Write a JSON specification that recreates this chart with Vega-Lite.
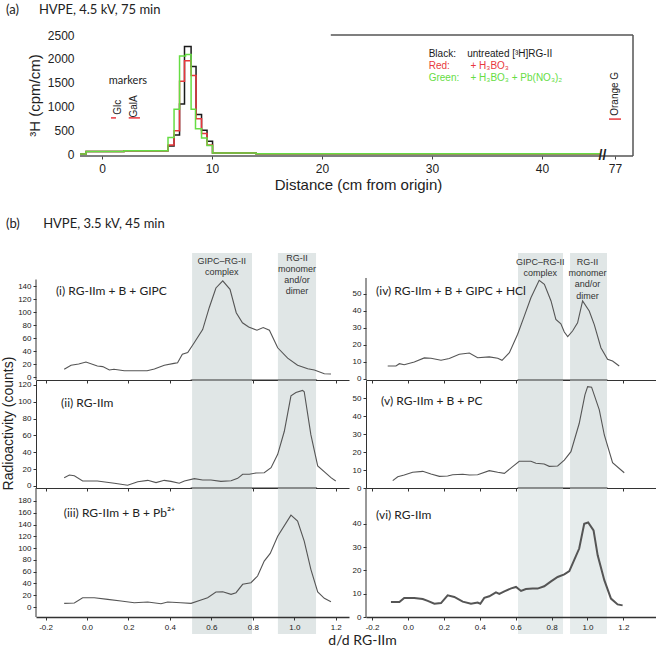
{
  "$schema": "https://vega.github.io/schema/vega-lite/v6.json",
  "padding": {"top": 3, "left": 0, "right": 0, "bottom": 0},
  "background": "white",
  "config": {
    "view": {"stroke": null},
    "axis": {"labelFont": "Liberation Sans", "titleFont": "Liberation Sans", "labelColor": "#222", "titleColor": "#222", "titleFontWeight": "normal", "grid": false},
    "title": {"font": "Lato", "fontSize": 13, "fontWeight": "normal", "color": "#222", "anchor": "start", "frame": "group"}
  },
  "bounds": "flush",
  "spacing": 0,
  "vconcat": [
    {
      "width": 597,
      "height": 121,
      "title": {"text": "(a)\u00a0\u00a0\u00a0\u00a0\u00a0\u00a0HVPE, 4.5 kV, 75 min", "dx": -30, "offset": 2.5, "baseline": "alphabetic"},
      "encoding": {
        "x": {"field": "x", "type": "quantitative",
          "scale": {"domain": [-6, 45.5, 76, 79], "range": [0, 566.5, 570, 597], "nice": false, "zero": false},
          "axis": {"title": "Distance (cm from origin)", "values": [0, 10, 20, 30, 40, 77], "domain": false, "tickSize": 3, "tickColor": "#444", "labelFontSize": 12, "labelPadding": 4, "titleFontSize": 15, "titlePadding": 3, "titleX": 322, "zindex": 1}},
        "y": {"field": "y", "type": "quantitative", "scale": {"domain": [-40, 2500], "nice": false, "zero": false},
          "axis": {"title": "\u00b3H (cpm/cm)", "values": [0, 500, 1000, 1500, 2000, 2500], "format": "d", "offset": -44, "domain": false, "ticks": false, "labelPadding": 6, "labelFontSize": 12, "titleFontSize": 15, "titleX": -46, "titleY": 60, "titleAlign": "center", "titleBaseline": "middle", "titleAngle": 270, "zindex": 1}}
      },
      "layer": [
        {
          "data": {"values": [{"x": -2, "xe": 79, "y": -40, "ye": -40}, {"x": 79, "xe": 79, "y": -40, "ye": 2500}, {"x": 20.8, "xe": 79, "y": 2500, "ye": 2500}]},
          "mark": {"type": "rule", "color": "#555", "strokeWidth": 1.5},
          "encoding": {"x2": {"field": "xe"}, "y2": {"field": "ye"}}
        },
        {
          "data": {"values": [
            {"s": "Black", "x": -2, "y": 0}, {"s": "Black", "x": -1.45, "y": 55}, {"s": "Black", "x": 2, "y": 72}, {"s": "Black", "x": 6, "y": 170}, {"s": "Black", "x": 6.55, "y": 400}, {"s": "Black", "x": 7.05, "y": 1050}, {"s": "Black", "x": 7.5, "y": 2260}, {"s": "Black", "x": 8.1, "y": 1840}, {"s": "Black", "x": 8.55, "y": 830}, {"s": "Black", "x": 9.05, "y": 500}, {"s": "Black", "x": 9.55, "y": 270}, {"s": "Black", "x": 10.05, "y": 25}, {"s": "Black", "x": 14, "y": 6}, {"s": "Black", "x": 45.3, "y": 6},
            {"s": "Red", "x": -2, "y": 0}, {"s": "Red", "x": -1.45, "y": 55}, {"s": "Red", "x": 2, "y": 72}, {"s": "Red", "x": 6, "y": 190}, {"s": "Red", "x": 6.55, "y": 490}, {"s": "Red", "x": 7.05, "y": 1530}, {"s": "Red", "x": 7.5, "y": 1960}, {"s": "Red", "x": 8.1, "y": 1650}, {"s": "Red", "x": 8.55, "y": 740}, {"s": "Red", "x": 9.05, "y": 430}, {"s": "Red", "x": 9.55, "y": 190}, {"s": "Red", "x": 10.05, "y": 25}, {"s": "Red", "x": 14, "y": 6}, {"s": "Red", "x": 45.3, "y": 6},
            {"s": "Green", "x": -2, "y": 0}, {"s": "Green", "x": -1.45, "y": 55}, {"s": "Green", "x": 2, "y": 72}, {"s": "Green", "x": 6, "y": 350}, {"s": "Green", "x": 6.55, "y": 940}, {"s": "Green", "x": 7.05, "y": 2060}, {"s": "Green", "x": 7.6, "y": 2090}, {"s": "Green", "x": 8.1, "y": 940}, {"s": "Green", "x": 8.5, "y": 530}, {"s": "Green", "x": 9.05, "y": 340}, {"s": "Green", "x": 9.55, "y": 180}, {"s": "Green", "x": 10.05, "y": 25}, {"s": "Green", "x": 14, "y": 6}, {"s": "Green", "x": 45.3, "y": 6}
          ]},
          "mark": {"type": "line", "interpolate": "step-after", "strokeWidth": 1.5},
          "encoding": {
            "color": {"field": "s", "type": "nominal", "scale": {"domain": ["Black", "Red", "Green"], "range": ["#1a1a1a", "#e8383d", "#66dd44"]}, "legend": null}
          }
        },
        {
          "data": {"values": [{"x": 0.82, "xe": 1.27, "y": 760}, {"x": 2.43, "xe": 3.45, "y": 760}, {"x": 76.33, "xe": 77.67, "y": 735}]},
          "mark": {"type": "rule", "color": "#e8383d", "strokeWidth": 1.5},
          "encoding": {"x2": {"field": "xe"}}
        },
        {
          "data": {"values": [{"x": 1.45, "y": 985, "t": "Glc"}, {"x": 2.9, "y": 1000, "t": "GalA"}, {"x": 77, "y": 1265, "t": "Orange G"}]},
          "mark": {"type": "text", "angle": 270, "font": "Liberation Sans", "fontSize": 10, "align": "center", "baseline": "middle", "color": "#222"},
          "encoding": {"text": {"field": "t"}}
        },
        {
          "data": {"values": [{"x": 2.36, "y": 1540, "t": "markers"}]},
          "mark": {"type": "text", "font": "Lato", "fontSize": 11, "align": "center", "baseline": "middle", "color": "#222"},
          "encoding": {"text": {"field": "t"}}
        },
        {
          "data": {"values": [
            {"x": 29.7, "y": 2100, "s": "Black", "t": "Black:"}, {"x": 33.2, "y": 2100, "s": "Black", "t": "untreated [\u00b3H]RG-II"},
            {"x": 29.7, "y": 1852, "s": "Red", "t": "Red:"}, {"x": 33.5, "y": 1852, "s": "Red", "t": "+ H\u2083BO\u2083"},
            {"x": 29.7, "y": 1606, "s": "Green", "t": "Green:"}, {"x": 33.5, "y": 1606, "s": "Green", "t": "+ H\u2083BO\u2083 + Pb(NO\u2083)\u2082"}
          ]},
          "mark": {"type": "text", "font": "Liberation Sans", "fontSize": 10, "align": "left", "baseline": "middle"},
          "encoding": {"text": {"field": "t"},
            "color": {"field": "s", "type": "nominal", "scale": {"domain": ["Black", "Red", "Green"], "range": ["#1a1a1a", "#e8383d", "#66dd44"]}, "legend": null}}
        },
        {
          "data": {"values": [{"x": 45.5, "y": -40, "t": "//"}]},
          "mark": {"type": "text", "font": "Liberation Sans", "fontSize": 14, "fontWeight": "bold", "align": "center", "baseline": "middle", "color": "#222"},
          "encoding": {"text": {"field": "t"}}
        }
      ]
    },
    {"width": 1, "height": 97, "data": {"values": []}, "mark": "point"},
    {
      "width": 620, "height": 127,
      "title": {"text": "(b)\u00a0\u00a0\u00a0\u00a0\u00a0\u00a0\u00a0HVPE, 3.5 kV, 45 min", "dx": -30, "offset": 12.5, "baseline": "alphabetic"},
      "resolve": {"scale": {"x": "independent", "y": "independent"}, "axis": {"x": "independent", "y": "independent"}},
      "layer": [
        {
          "encoding": {
            "x": {"field": "x", "type": "quantitative", "scale": {"domain": [-0.246, 1.264], "range": [0, 313], "nice": false, "zero": false},
              "axis": {"title": null, "orient": "bottom", "values": [-0.2, 0, 0.2, 0.4, 0.6, 0.8, 1, 1.2], "labels": false, "tickSize": 3, "tickColor": "#333", "domainColor": "#333", "domainWidth": 1.2, "zindex": 1}},
            "y": {"field": "y", "type": "quantitative", "scale": {"domain": [-4.6, 190.8], "nice": false, "zero": false},
              "axis": {"title": null, "orient": "left", "values": [0, 20, 40, 60, 80, 100, 120, 140], "domain": false, "tickSize": 3, "tickColor": "#333", "labelFontSize": 8, "labelPadding": 2, "zindex": 1}}
          },
          "layer": [
            {"data": {"values": [{"x": 0.507, "xe": 0.796, "y": -4.6, "ye": 190.8}, {"x": 0.921, "xe": 1.105, "y": -4.6, "ye": 190.8}]}, "mark": {"type": "rect", "color": "#e0e6e6", "opacity": 1}, "encoding": {"x2": {"field": "xe"}, "y2": {"field": "ye"}}},
            {"data": {"values": [{"x": -0.246, "y": -4.6, "ye": 150}]}, "mark": {"type": "rule", "color": "#333", "strokeWidth": 1}, "encoding": {"y2": {"field": "ye"}}},
            {"data": {"values": [
              {"x": -0.11, "y": 11.8}, {"x": -0.077, "y": 18}, {"x": -0.04, "y": 20}, {"x": -0.005, "y": 23}, {"x": 0.05, "y": 17}, {"x": 0.076, "y": 16}, {"x": 0.108, "y": 10.8}, {"x": 0.13, "y": 12}, {"x": 0.18, "y": 9.7}, {"x": 0.29, "y": 9.7}, {"x": 0.325, "y": 12.3}, {"x": 0.373, "y": 18}, {"x": 0.42, "y": 21}, {"x": 0.437, "y": 22}, {"x": 0.46, "y": 35}, {"x": 0.486, "y": 37.5}, {"x": 0.518, "y": 53}, {"x": 0.558, "y": 73}, {"x": 0.59, "y": 107}, {"x": 0.622, "y": 137}, {"x": 0.655, "y": 148}, {"x": 0.69, "y": 135}, {"x": 0.72, "y": 99}, {"x": 0.75, "y": 83.5}, {"x": 0.78, "y": 77}, {"x": 0.82, "y": 72}, {"x": 0.85, "y": 76}, {"x": 0.88, "y": 72}, {"x": 0.92, "y": 45}, {"x": 0.968, "y": 29}, {"x": 1.016, "y": 18}, {"x": 1.065, "y": 12.8}, {"x": 1.097, "y": 10.8}, {"x": 1.145, "y": 5}, {"x": 1.177, "y": 4.6}
            ]}, "mark": {"type": "line", "color": "#555", "strokeWidth": 1.1}},
            {"data": {"values": [{"x": 0.65, "y": 178.5, "t": "GIPC\u2013RG-II"}, {"x": 0.65, "y": 162, "t": "complex"}, {"x": 1.013, "y": 182.6, "t": "RG-II"}, {"x": 1.013, "y": 165.7, "t": "monomer"}, {"x": 1.013, "y": 149.2, "t": "and/or"}, {"x": 1.013, "y": 132.3, "t": "dimer"}]},
              "mark": {"type": "text", "font": "Liberation Sans", "fontSize": 9, "align": "center", "baseline": "middle", "color": "#333"},
              "encoding": {"text": {"field": "t"}}},
            {"data": {"values": [{"x": -0.15, "y": 132, "t": "(i) RG-IIm + B + GIPC"}]},
              "mark": {"type": "text", "font": "Lato", "fontSize": 12, "align": "left", "baseline": "middle", "color": "#222"},
              "encoding": {"text": {"field": "t"}}}
          ]
        },
        {
          "encoding": {
            "x": {"field": "x", "type": "quantitative", "scale": {"domain": [-0.234, 1.382], "range": [330, 620], "nice": false, "zero": false},
              "axis": {"title": null, "orient": "bottom", "values": [-0.2, 0, 0.2, 0.4, 0.6, 0.8, 1, 1.2], "labels": false, "tickSize": 3, "tickColor": "#333", "domainColor": "#333", "domainWidth": 1.2, "zindex": 1}},
            "y": {"field": "y", "type": "quantitative", "scale": {"domain": [-0.6, 74.1], "nice": false, "zero": false},
              "axis": {"title": null, "orient": "left", "offset": -330, "values": [0, 10, 20, 30, 40, 50], "domain": false, "tickSize": 3, "tickColor": "#333", "labelFontSize": 8, "labelPadding": 2, "zindex": 1}}
          },
          "layer": [
            {"data": {"values": [{"x": 0.613, "xe": 0.864, "y": -0.6, "ye": 74.1}, {"x": 0.903, "xe": 1.109, "y": -0.6, "ye": 74.1}]}, "mark": {"type": "rect", "color": "#e0e6e6", "opacity": 1}, "encoding": {"x2": {"field": "xe"}, "y2": {"field": "ye"}}},
            {"data": {"values": [{"x": -0.234, "y": -0.6, "ye": 59.4}]}, "mark": {"type": "rule", "color": "#333", "strokeWidth": 1}, "encoding": {"y2": {"field": "ye"}}},
            {"data": {"values": [
              {"x": -0.113, "y": 7.6}, {"x": -0.067, "y": 7.6}, {"x": -0.048, "y": 9}, {"x": -0.021, "y": 8.4}, {"x": 0.035, "y": 10}, {"x": 0.091, "y": 12.4}, {"x": 0.128, "y": 12.2}, {"x": 0.184, "y": 11}, {"x": 0.23, "y": 12}, {"x": 0.286, "y": 14.5}, {"x": 0.342, "y": 15.3}, {"x": 0.388, "y": 12.5}, {"x": 0.453, "y": 13}, {"x": 0.5, "y": 12.2}, {"x": 0.524, "y": 11}, {"x": 0.565, "y": 15.5}, {"x": 0.611, "y": 26.3}, {"x": 0.648, "y": 37}, {"x": 0.685, "y": 47.8}, {"x": 0.731, "y": 58}, {"x": 0.76, "y": 55.7}, {"x": 0.797, "y": 45.9}, {"x": 0.824, "y": 35}, {"x": 0.852, "y": 32.5}, {"x": 0.871, "y": 27.6}, {"x": 0.89, "y": 24.9}, {"x": 0.917, "y": 28.2}, {"x": 0.945, "y": 33}, {"x": 0.973, "y": 45.9}, {"x": 1.01, "y": 40}, {"x": 1.038, "y": 32}, {"x": 1.075, "y": 18.4}, {"x": 1.112, "y": 11.6}, {"x": 1.14, "y": 10.6}, {"x": 1.177, "y": 7.6}
            ]}, "mark": {"type": "line", "color": "#555", "strokeWidth": 1.1}},
            {"data": {"values": [{"x": 0.737, "y": 69, "t": "GIPC\u2013RG-II"}, {"x": 0.737, "y": 62.5, "t": "complex"}, {"x": 1.0, "y": 69, "t": "RG-II"}, {"x": 1.0, "y": 62.5, "t": "monomer"}, {"x": 1.0, "y": 55.7, "t": "and/or"}, {"x": 1.0, "y": 49, "t": "dimer"}]},
              "mark": {"type": "text", "font": "Liberation Sans", "fontSize": 9, "align": "center", "baseline": "middle", "color": "#333"},
              "encoding": {"text": {"field": "t"}}},
            {"data": {"values": [{"x": -0.178, "y": 51.8, "t": "(iv) RG-IIm + B + GIPC + HCl"}]},
              "mark": {"type": "text", "font": "Lato", "fontSize": 12, "align": "left", "baseline": "middle", "color": "#222"},
              "encoding": {"text": {"field": "t"}}}
          ]
        }
      ]
    },
    {
      "width": 620, "height": 108,
      "resolve": {"scale": {"x": "independent", "y": "independent"}, "axis": {"x": "independent", "y": "independent"}},
      "layer": [
        {
          "encoding": {
            "x": {"field": "x", "type": "quantitative", "scale": {"domain": [-0.246, 1.264], "range": [0, 313], "nice": false, "zero": false},
              "axis": {"title": null, "orient": "bottom", "values": [-0.2, 0, 0.2, 0.4, 0.6, 0.8, 1, 1.2], "labels": false, "tickSize": 3, "tickColor": "#333", "domainColor": "#333", "domainWidth": 1.2, "zindex": 1}},
            "y": {"field": "y", "type": "quantitative", "scale": {"domain": [-2.4, 125.9], "nice": false, "zero": false},
              "axis": {"title": "Radioactivity (counts)", "orient": "left", "values": [0, 20, 40, 60, 80, 100, 120], "domain": true, "domainColor": "#333", "tickSize": 3, "tickColor": "#333", "labelFontSize": 8, "labelPadding": 2, "zindex": 1,
                "titleFontSize": 14, "titleX": -28, "titleY": 43, "titleAngle": 270, "titleAlign": "center", "titleBaseline": "middle"}}
          },
          "layer": [
            {"data": {"values": [{"x": 0.507, "xe": 0.796, "y": -2.4, "ye": 125.9}, {"x": 0.921, "xe": 1.105, "y": -2.4, "ye": 125.9}]}, "mark": {"type": "rect", "color": "#e0e6e6", "opacity": 1}, "encoding": {"x2": {"field": "xe"}, "y2": {"field": "ye"}}},
            {"data": {"values": [{"x": 0.5, "xe": 1.11, "y": 125.9}]}, "mark": {"type": "rule", "color": "#333", "strokeWidth": 1}, "encoding": {"x2": {"field": "xe"}}},
            {"data": {"values": [
              {"x": -0.11, "y": 9.9}, {"x": -0.085, "y": 13}, {"x": -0.061, "y": 12.2}, {"x": -0.021, "y": 5.9}, {"x": 0.05, "y": 5.9}, {"x": 0.132, "y": 3.2}, {"x": 0.196, "y": 0.8}, {"x": 0.245, "y": 5.1}, {"x": 0.293, "y": 6.7}, {"x": 0.333, "y": 4}, {"x": 0.373, "y": 6.7}, {"x": 0.405, "y": 5.5}, {"x": 0.445, "y": 3.2}, {"x": 0.47, "y": 5.9}, {"x": 0.518, "y": 8.7}, {"x": 0.558, "y": 7.1}, {"x": 0.598, "y": 7.1}, {"x": 0.646, "y": 5.5}, {"x": 0.695, "y": 6.3}, {"x": 0.727, "y": 9.1}, {"x": 0.751, "y": 13.9}, {"x": 0.783, "y": 13.9}, {"x": 0.815, "y": 15.4}, {"x": 0.855, "y": 15.8}, {"x": 0.888, "y": 21.7}, {"x": 0.92, "y": 37.6}, {"x": 0.952, "y": 65}, {"x": 0.984, "y": 107}, {"x": 1.008, "y": 111}, {"x": 1.04, "y": 113.6}, {"x": 1.048, "y": 112}, {"x": 1.08, "y": 61}, {"x": 1.113, "y": 23.8}, {"x": 1.177, "y": 9.9}, {"x": 1.2, "y": 6}
            ]}, "mark": {"type": "line", "color": "#555", "strokeWidth": 1.1}},
            {"data": {"values": [{"x": -0.125, "y": 99, "t": "(ii) RG-IIm"}]},
              "mark": {"type": "text", "font": "Lato", "fontSize": 12, "align": "left", "baseline": "middle", "color": "#222"},
              "encoding": {"text": {"field": "t"}}}
          ]
        },
        {
          "encoding": {
            "x": {"field": "x", "type": "quantitative", "scale": {"domain": [-0.234, 1.382], "range": [330, 620], "nice": false, "zero": false},
              "axis": {"title": null, "orient": "bottom", "values": [-0.2, 0, 0.2, 0.4, 0.6, 0.8, 1, 1.2], "labels": false, "tickSize": 3, "tickColor": "#333", "domainColor": "#333", "domainWidth": 1.2, "zindex": 1}},
            "y": {"field": "y", "type": "quantitative", "scale": {"domain": [0, 60.3], "nice": false, "zero": false},
              "axis": {"title": null, "orient": "left", "offset": -330, "values": [0, 10, 20, 30, 40, 50], "domain": true, "domainColor": "#333", "tickSize": 3, "tickColor": "#333", "labelFontSize": 8, "labelPadding": 2, "zindex": 1}}
          },
          "layer": [
            {"data": {"values": [{"x": 0.613, "xe": 0.864, "y": 0, "ye": 60.3}, {"x": 0.903, "xe": 1.109, "y": 0, "ye": 60.3}]}, "mark": {"type": "rect", "color": "#e0e6e6", "opacity": 1}, "encoding": {"x2": {"field": "xe"}, "y2": {"field": "ye"}}},
            {"data": {"values": [{"x": 0.61, "xe": 1.112, "y": 60.3}]}, "mark": {"type": "rule", "color": "#333", "strokeWidth": 1}, "encoding": {"x2": {"field": "xe"}}},
            {"data": {"values": [
              {"x": -0.085, "y": 4.1}, {"x": -0.057, "y": 6.3}, {"x": -0.021, "y": 7.3}, {"x": 0.026, "y": 8.8}, {"x": 0.082, "y": 9.3}, {"x": 0.128, "y": 7.8}, {"x": 0.175, "y": 6.5}, {"x": 0.221, "y": 6.7}, {"x": 0.249, "y": 7.4}, {"x": 0.305, "y": 7.7}, {"x": 0.342, "y": 7.3}, {"x": 0.388, "y": 7.4}, {"x": 0.453, "y": 9.7}, {"x": 0.5, "y": 8.8}, {"x": 0.537, "y": 8.2}, {"x": 0.583, "y": 11.9}, {"x": 0.62, "y": 14.9}, {"x": 0.685, "y": 14.9}, {"x": 0.713, "y": 13.8}, {"x": 0.759, "y": 13.4}, {"x": 0.787, "y": 12.1}, {"x": 0.834, "y": 12.3}, {"x": 0.871, "y": 15.6}, {"x": 0.908, "y": 20.3}, {"x": 0.954, "y": 36}, {"x": 0.986, "y": 52}, {"x": 1.001, "y": 56.6}, {"x": 1.023, "y": 56.3}, {"x": 1.066, "y": 43.6}, {"x": 1.094, "y": 29.6}, {"x": 1.14, "y": 14.1}, {"x": 1.205, "y": 8.5}
            ]}, "mark": {"type": "line", "color": "#555", "strokeWidth": 1.1}},
            {"data": {"values": [{"x": -0.15, "y": 48.6, "t": "(v) RG-IIm + B + PC"}]},
              "mark": {"type": "text", "font": "Lato", "fontSize": 12, "align": "left", "baseline": "middle", "color": "#222"},
              "encoding": {"text": {"field": "t"}}}
          ]
        }
      ]
    },
    {
      "width": 620, "height": 146,
      "resolve": {"scale": {"x": "independent", "y": "independent"}, "axis": {"x": "independent", "y": "independent"}},
      "layer": [
        {
          "encoding": {
            "x": {"field": "x", "type": "quantitative", "scale": {"domain": [-0.246, 1.264], "range": [0, 313], "nice": false, "zero": false},
              "axis": {"title": null, "orient": "bottom", "values": [-0.2, 0, 0.2, 0.4, 0.6, 0.8, 1, 1.2], "offset": -17, "labelExpr": "replace(format(datum.value, '.1f'), '\u2212', '-')", "labelFontSize": 8, "labelPadding": 3, "tickSize": 3, "tickColor": "#333", "domainColor": "#333", "domainWidth": 1.5, "zindex": 1}},
            "y": {"field": "y", "type": "quantitative", "scale": {"domain": [-45.8, 202], "nice": false, "zero": false},
              "axis": {"title": null, "orient": "left", "values": [0, 20, 40, 60, 80, 100, 120, 140, 160, 180], "domain": false, "tickSize": 3, "tickColor": "#333", "labelFontSize": 8, "labelPadding": 2, "zindex": 1}}
          },
          "layer": [
            {"data": {"values": [{"x": 0.507, "xe": 0.796, "y": -45.8, "ye": 202}, {"x": 0.921, "xe": 1.105, "y": -45.8, "ye": 202}]}, "mark": {"type": "rect", "color": "#e0e6e6", "opacity": 1}, "encoding": {"x2": {"field": "xe"}, "y2": {"field": "ye"}}},
            {"data": {"values": [{"x": -0.246, "y": -17, "ye": 202}]}, "mark": {"type": "rule", "color": "#333", "strokeWidth": 1}, "encoding": {"y2": {"field": "ye"}}},
            {"data": {"values": [{"x": 0.5, "xe": 1.11, "y": 202}]}, "mark": {"type": "rule", "color": "#333", "strokeWidth": 1}, "encoding": {"x2": {"field": "xe"}}},
            {"data": {"values": [
              {"x": -0.11, "y": 6.2}, {"x": -0.061, "y": 6.8}, {"x": -0.021, "y": 15.8}, {"x": 0.035, "y": 15.8}, {"x": 0.1, "y": 13}, {"x": 0.164, "y": 10.2}, {"x": 0.228, "y": 7.3}, {"x": 0.293, "y": 8.5}, {"x": 0.357, "y": 5.6}, {"x": 0.389, "y": 8.5}, {"x": 0.453, "y": 7.3}, {"x": 0.502, "y": 6.2}, {"x": 0.55, "y": 11.9}, {"x": 0.582, "y": 15.8}, {"x": 0.622, "y": 25.5}, {"x": 0.655, "y": 26}, {"x": 0.695, "y": 21.5}, {"x": 0.719, "y": 24.3}, {"x": 0.751, "y": 38.5}, {"x": 0.791, "y": 41.3}, {"x": 0.823, "y": 52.6}, {"x": 0.855, "y": 78}, {"x": 0.884, "y": 91}, {"x": 0.92, "y": 120}, {"x": 0.984, "y": 156}, {"x": 1.016, "y": 146}, {"x": 1.048, "y": 112}, {"x": 1.08, "y": 64}, {"x": 1.113, "y": 25.5}, {"x": 1.145, "y": 14.8}, {"x": 1.177, "y": 9}
            ]}, "mark": {"type": "line", "color": "#555", "strokeWidth": 1.1}},
            {"data": {"values": [{"x": -0.112, "y": 159, "t": "(iii) RG-IIm + B + Pb\u00b2\u207a"}]},
              "mark": {"type": "text", "font": "Lato", "fontSize": 12, "align": "left", "baseline": "middle", "color": "#222"},
              "encoding": {"text": {"field": "t"}}}
          ]
        },
        {
          "encoding": {
            "x": {"field": "x", "type": "quantitative", "scale": {"domain": [-0.234, 1.382], "range": [330, 620], "nice": false, "zero": false},
              "axis": {"title": "d/d RG-IIm", "orient": "bottom", "values": [-0.2, 0, 0.2, 0.4, 0.6, 0.8, 1, 1.2], "offset": -17, "labelExpr": "replace(format(datum.value, '.1f'), '\u2212', '-')", "labelFontSize": 8, "labelPadding": 3, "tickSize": 3, "tickColor": "#333", "domainColor": "#333", "domainWidth": 1.5, "zindex": 1,
                "titleFont": "Lato", "titleFontSize": 14, "titleX": 326, "titleY": 23, "titleAlign": "center", "titleBaseline": "middle"}},
            "y": {"field": "y", "type": "quantitative", "scale": {"domain": [-7.3, 55.4], "nice": false, "zero": false},
              "axis": {"title": null, "orient": "left", "offset": -330, "values": [0, 10, 20, 30, 40], "domain": false, "tickSize": 3, "tickColor": "#333", "labelFontSize": 8, "labelPadding": 2, "zindex": 1}}
          },
          "layer": [
            {"data": {"values": [{"x": 0.613, "xe": 0.864, "y": -7.3, "ye": 55.4}, {"x": 0.903, "xe": 1.109, "y": -7.3, "ye": 55.4}]}, "mark": {"type": "rect", "color": "#e6ecec", "opacity": 1}, "encoding": {"x2": {"field": "xe"}, "y2": {"field": "ye"}}},
            {"data": {"values": [{"x": -0.234, "y": 0, "ye": 55.4}]}, "mark": {"type": "rule", "color": "#333", "strokeWidth": 1}, "encoding": {"y2": {"field": "ye"}}},
            {"data": {"values": [{"x": 0.61, "xe": 1.112, "y": 55.4}]}, "mark": {"type": "rule", "color": "#333", "strokeWidth": 1}, "encoding": {"x2": {"field": "xe"}}},
            {"data": {"values": [
              {"x": -0.095, "y": 6.4}, {"x": -0.048, "y": 6.4}, {"x": -0.021, "y": 8.2}, {"x": 0.035, "y": 8.2}, {"x": 0.082, "y": 7.7}, {"x": 0.11, "y": 6.9}, {"x": 0.147, "y": 5.7}, {"x": 0.184, "y": 6}, {"x": 0.221, "y": 9.3}, {"x": 0.258, "y": 8.6}, {"x": 0.305, "y": 6.6}, {"x": 0.351, "y": 5.7}, {"x": 0.388, "y": 6.2}, {"x": 0.403, "y": 5.7}, {"x": 0.425, "y": 8.2}, {"x": 0.453, "y": 8.9}, {"x": 0.49, "y": 10.6}, {"x": 0.509, "y": 9.9}, {"x": 0.537, "y": 11}, {"x": 0.575, "y": 12.3}, {"x": 0.602, "y": 12.9}, {"x": 0.63, "y": 11.2}, {"x": 0.657, "y": 12}, {"x": 0.695, "y": 12.2}, {"x": 0.722, "y": 12.2}, {"x": 0.759, "y": 13.2}, {"x": 0.797, "y": 15.3}, {"x": 0.834, "y": 17.2}, {"x": 0.871, "y": 18.3}, {"x": 0.899, "y": 19.7}, {"x": 0.927, "y": 24.6}, {"x": 0.954, "y": 29.4}, {"x": 0.982, "y": 40}, {"x": 1.004, "y": 40.6}, {"x": 1.034, "y": 37.2}, {"x": 1.057, "y": 26.5}, {"x": 1.094, "y": 15.8}, {"x": 1.131, "y": 7.9}, {"x": 1.168, "y": 5.4}, {"x": 1.196, "y": 5}
            ]}, "mark": {"type": "line", "color": "#555", "strokeWidth": 2}},
            {"data": {"values": [{"x": -0.178, "y": 43.6, "t": "(vi) RG-IIm"}]},
              "mark": {"type": "text", "font": "Lato", "fontSize": 12, "align": "left", "baseline": "middle", "color": "#222"},
              "encoding": {"text": {"field": "t"}}}
          ]
        }
      ]
    }
  ]
}
